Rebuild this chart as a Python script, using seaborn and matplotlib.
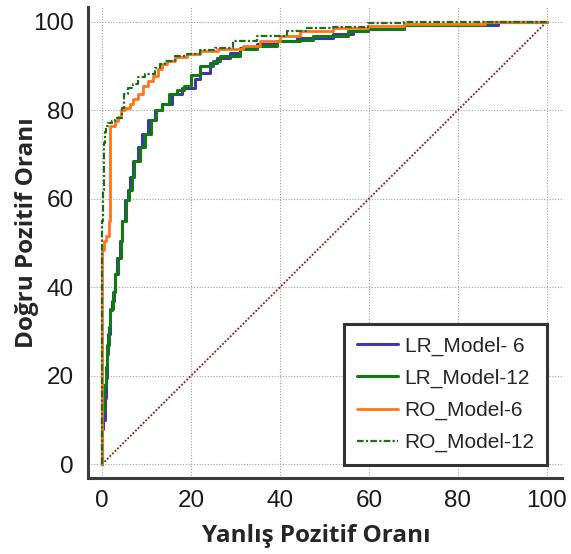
import numpy as np
import pandas as pd
import matplotlib
matplotlib.use('Agg')
import matplotlib.pyplot as plt
import seaborn as sns
from matplotlib.ticker import MultipleLocator

# ROC curves (false positive rate %, true positive rate %)
lr6_x = [0, 0, 0.3, 0.7, 0.9, 1.1, 1.4, 1.8, 2.2, 2.6, 2.9, 3.4, 4.1, 4.5, 5.2, 5.9, 6.4, 7, 8.1, 9,
         10.4, 11.9, 13.5, 15.8, 18, 21, 22, 24.3, 25.9, 28.8, 31, 34.9, 39.4, 43.9, 52, 56.5, 59.7,
         67.8, 67.9, 89, 99.5, 100]
lr6_y = [0, 6, 8, 10, 15, 19.6, 25, 29.5, 34.8, 37, 39.2, 43, 46.7, 50.5, 55, 59.6, 62, 64.8, 68.6, 71.6,
         74.7, 77.7, 80, 81.5, 83.7, 85.1, 87.1, 88.5, 90.7, 91.9, 93, 94.1, 95, 95.7, 96.4, 97.3, 98,
         98.3, 99, 99.3, 100, 100]

lr12_x = [0, 0, 0.4, 0.8, 1.2, 1.5, 1.9, 2.4, 3.0, 3.5, 4.2, 4.6, 5.3, 6.1, 6.7, 7.3, 8.6, 9.7, 11.0,
          12.2, 13.5, 15, 16.8, 18.5, 20, 22, 25, 26.6, 31, 34.9, 39.4, 44.6, 47.5, 55.2, 59.7, 67.8,
          67.9, 86, 99.5, 100]
lr12_y = [0, 5, 12, 18, 22, 27, 31, 35, 39, 43, 46.5, 50.5, 55, 59.6, 62, 64.8, 68.6, 71.6, 74.7,
          77.7, 80, 81.5, 83.7, 84.5, 85.5, 88, 90, 91.2, 92.3, 93.9, 94.6, 95.7, 95.9, 96.8, 98, 98.3,
          99, 99.2, 100, 100]

ro6_x = [0, 0, 0.5, 1, 1.6, 1.9, 1.9, 3, 3.6, 4.3, 5.2, 6.3, 7, 8, 9.2, 10.4, 11.5, 12.6, 13.5, 14.6,
         16.4, 19, 22, 26, 31.8, 35.6, 40, 44.6, 52, 59.7, 67.8, 86, 99.3, 100]
ro6_y = [0, 47.5, 48.5, 50.5, 51.5, 55, 76, 76.5, 77.6, 78.5, 80, 80.4, 81.5, 82.6, 83.7, 85.5, 86.7,
         87.8, 89.4, 90.5, 91.2, 92, 92.8, 93.3, 93.9, 94.6, 95.7, 96.8, 98, 98.6, 99, 99.5, 100, 100]

ro12_x = [0, 0, 0.3, 0.5, 0.7, 1.0, 1.4, 2.2, 2.9, 4.5, 5, 5.9, 7, 8.1, 9.7, 11.9, 13, 14.2, 16.4, 19,
          22, 25.5, 29.5, 34.9, 41.7, 46, 52, 59.7, 68, 86, 100]
ro12_y = [0, 52, 55, 62, 72.5, 75, 76.5, 77.2, 77.6, 78.3, 80.5, 83.7, 85, 86, 87.4, 88.2, 89.5, 90.5,
          91.2, 92.2, 92.8, 93.5, 94.1, 95.7, 96.8, 98, 98.5, 98.9, 99.6, 100, 100]

labels = ['LR_Model- 6', 'LR_Model-12', 'RO_Model-6', 'RO_Model-12']
ticks = [0, 20, 40, 60, 80, 100]

sns.set_style('white')
plt.rcParams['font.family'] = ['Liberation Sans', 'DejaVu Sans']

fig = plt.figure(figsize=(5.71, 5.54), dpi=100)
ax = fig.add_axes([0.1541, 0.1372, 0.830, 0.850])

# diagonal = chance line
ax.plot([0, 100], [0, 100], color='#8B1A1A', lw=1.3, linestyle=(0, (1, 1)), zorder=2)

sns.lineplot(x=lr6_x, y=lr6_y, sort=False, estimator=None, drawstyle='steps-pre',
             color='#3B3BA3', lw=2.2, label=labels[0], ax=ax, zorder=3)
sns.lineplot(x=lr12_x, y=lr12_y, sort=False, estimator=None, drawstyle='steps-pre',
             color='#137A13', lw=2.2, label=labels[1], ax=ax, zorder=4)
sns.lineplot(x=ro6_x, y=ro6_y, sort=False, estimator=None, drawstyle='steps-pre',
             color='#FF7518', lw=2.0, label=labels[2], ax=ax, zorder=5)
sns.lineplot(x=ro12_x, y=ro12_y, sort=False, estimator=None, drawstyle='steps-pre',
             color='#1C6E1C', lw=1.6, linestyle=(0, (3, 1, 1, 1)), label=labels[3], ax=ax, zorder=6)

ax.set_xlim(-3.15, 103.4)
ax.set_ylim(-3.1, 103.3)
ax.set_xticks(ticks)
ax.set_yticks(ticks)
ax.xaxis.set_minor_locator(MultipleLocator(5))
ax.yaxis.set_minor_locator(MultipleLocator(5))
ax.grid(True, which='major', linestyle=(0, (1, 1.5)), color='#A0A0A0', lw=0.8)

for s in ['top', 'right']:
    ax.spines[s].set_visible(False)
for s in ['left', 'bottom']:
    ax.spines[s].set_color('#3C3C3C')
    ax.spines[s].set_linewidth(2.2)

ax.tick_params(which='major', direction='in', length=10, width=2.2, color='#3C3C3C',
               labelsize=17.5, labelcolor='#1A1A1A')
ax.tick_params(which='minor', direction='in', length=5, width=1.3, color='#3C3C3C')
ax.tick_params(axis='x', which='major', pad=9)
ax.tick_params(axis='y', which='major', pad=10)

ax.set_xlabel('Yanlış Pozitif Oranı', family=['Open Sans', 'DejaVu Sans'], fontweight='bold',
              fontsize=17.5)
ax.set_ylabel('Doğru Pozitif Oranı', family=['Open Sans', 'DejaVu Sans'], fontweight='bold',
              fontsize=17.5)
ax.xaxis.set_label_coords(0.481, -0.098)
ax.yaxis.set_label_coords(-0.103, 0.52)

leg = ax.legend(loc='lower right', bbox_to_anchor=(100.1, -0.1), bbox_transform=ax.transData,
                borderaxespad=0, fancybox=False, framealpha=1, fontsize=15,
                handlelength=2.0, handletextpad=0.3, labelspacing=0.62, borderpad=0.6)
leg.get_frame().set_edgecolor('#333333')
leg.get_frame().set_linewidth(2.2)

fig.savefig('out.png', dpi=100)
